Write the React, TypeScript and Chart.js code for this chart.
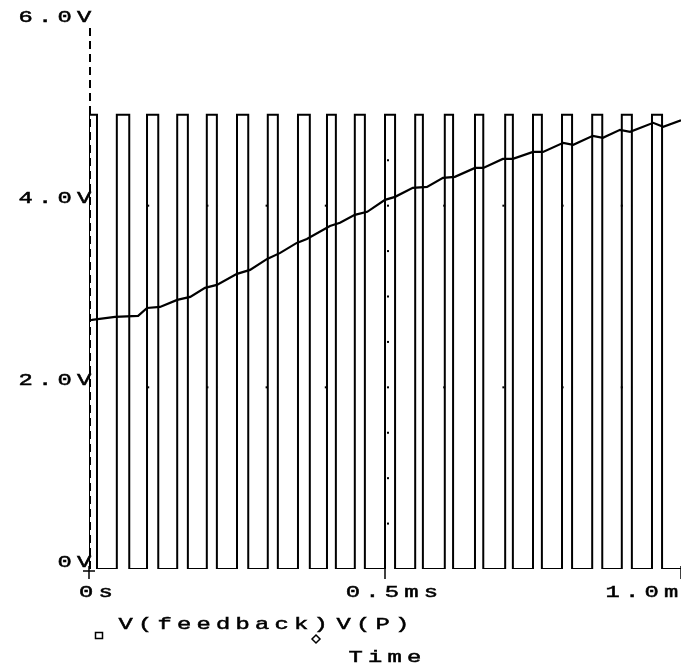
import React, { useEffect, useRef } from "react";
import { Chart, registerables } from "chart.js";
Chart.register(...registerables);

// ---- data (time in ms, voltage in V) ----
const pulseRiseTimes = [0, 0.047, 0.098, 0.149, 0.199, 0.25, 0.302, 0.353, 0.402, 0.449, 0.5, 0.551, 0.601, 0.652, 0.703, 0.75, 0.799, 0.85, 0.9, 0.951];
const pulseFallTimes = [0.0135, 0.068, 0.117, 0.167, 0.216, 0.269, 0.319, 0.373, 0.417, 0.466, 0.517, 0.564, 0.615, 0.666, 0.716, 0.765, 0.816, 0.867, 0.917, 0.968];
const pulseHigh = 5.0;
const pulseLow = 0;
const endTime = 1.0;

const feedbackTimes = [0, 0.005, 0.044, 0.083, 0.098, 0.12, 0.149, 0.171, 0.196, 0.216, 0.25, 0.272, 0.301, 0.323, 0.351, 0.368, 0.407, 0.424, 0.449, 0.47, 0.5, 0.517, 0.547, 0.571, 0.598, 0.618, 0.652, 0.666, 0.699, 0.716, 0.75, 0.767, 0.801, 0.818, 0.851, 0.868, 0.897, 0.914, 0.953, 0.97, 1.0];
const feedbackValues = [2.74, 2.742, 2.775, 2.786, 2.874, 2.885, 2.963, 2.996, 3.095, 3.128, 3.249, 3.293, 3.414, 3.48, 3.59, 3.634, 3.777, 3.811, 3.899, 3.932, 4.064, 4.097, 4.196, 4.207, 4.306, 4.317, 4.416, 4.416, 4.515, 4.515, 4.592, 4.592, 4.692, 4.67, 4.769, 4.747, 4.835, 4.813, 4.912, 4.868, 4.94];

const yTicks = [0, 2, 4, 6];
const yTickLabels = ["0V", "2.0V", "4.0V", "6.0V"];
const xTicks = [0, 0.5, 1.0];
const xTickLabels = ["0s", "0.5ms", "1.0ms"];
const legendLabels = ["V(feedback)", "V(P)"];
const xTitle = "Time";

// sparse dotted grid (PSpice style)
const gridDotTimes = [0.1, 0.2, 0.3, 0.4, 0.5, 0.6, 0.7, 0.8, 0.9];
const gridDotLevels = [2, 4];
const gridDotVolts = [0.5, 1.0, 1.5, 2.0, 2.5, 3.0, 3.5, 4.0, 4.5];
const gridDotTimeLine = 0.5;

const ADV = 19.5;
const SX = 1.4;
const FONT = "17px 'Liberation Mono', 'DejaVu Sans Mono', monospace";

function drawMono(ctx: CanvasRenderingContext2D, text: string, left: number, cy: number) {
  ctx.save();
  ctx.font = FONT;
  ctx.textBaseline = "middle";
  ctx.textAlign = "center";
  ctx.fillStyle = "#000";
  ctx.strokeStyle = "#000";
  ctx.lineWidth = 0.5;
  for (let i = 0; i < text.length; i++) {
    const cx = left + i * ADV + ADV / 2;
    ctx.save();
    ctx.translate(cx, cy);
    ctx.scale(SX, 1);
    ctx.fillText(text[i], 0, 0);
    ctx.strokeText(text[i], 0, 0);
    ctx.restore();
  }
  ctx.restore();
}

const overlay = {
  id: "pspiceOverlay",
  afterDraw(chart: any) {
    const ctx: CanvasRenderingContext2D = chart.ctx;
    const xs = chart.scales.x;
    const ys = chart.scales.y;
    const area = chart.chartArea;
    const x0 = xs.getPixelForValue(0);
    const y0 = ys.getPixelForValue(0);

    ctx.save();
    // dashed y axis
    ctx.strokeStyle = "#000";
    ctx.lineWidth = 2;
    ctx.setLineDash([8, 5]);
    ctx.beginPath();
    ctx.moveTo(x0 + 1, area.top + 4);
    ctx.lineTo(x0 + 1, y0 + 4);
    ctx.stroke();
    ctx.setLineDash([]);

    // origin cross and x ticks
    ctx.lineWidth = 1.5;
    ctx.beginPath();
    ctx.moveTo(x0 - 6, y0 + 2);
    ctx.lineTo(x0 + 6, y0 + 2);
    ctx.stroke();
    for (const t of xTicks) {
      const px = xs.getPixelForValue(t);
      ctx.beginPath();
      ctx.moveTo(px, y0 - 3);
      ctx.lineTo(px, y0 + 10);
      ctx.stroke();
    }

    // grid dots
    ctx.fillStyle = "#000";
    for (const v of gridDotLevels) {
      for (const t of gridDotTimes) {
        ctx.fillRect(xs.getPixelForValue(t) - 1, ys.getPixelForValue(v) - 1, 2, 2);
      }
    }
    for (const v of gridDotVolts) {
      ctx.fillRect(xs.getPixelForValue(gridDotTimeLine) + 2, ys.getPixelForValue(v) - 1, 2, 2);
    }

    // y tick labels (right aligned)
    yTicks.forEach((v, i) => {
      const lab = yTickLabels[i];
      const py = ys.getPixelForValue(v) - 7;
      drawMono(ctx, lab, x0 + 5 - lab.length * ADV, py);
    });

    // x tick labels
    xTicks.forEach((t, i) => {
      const lab = xTickLabels[i];
      const px = xs.getPixelForValue(t);
      let left = px + 7 - (lab.length * ADV) / 2;
      left = Math.min(left, area.right - 78);
      drawMono(ctx, lab, left, y0 + 23);
    });

    // legend
    const ly = y0 + 55;
    ctx.lineWidth = 1.5;
    ctx.strokeRect(x0 + 6.5, ly + 8.5, 7, 6);
    drawMono(ctx, legendLabels[0], x0 + 27, ly);
    ctx.beginPath();
    const dx = x0 + 227, dy = ly + 15;
    ctx.moveTo(dx, dy - 4);
    ctx.lineTo(dx + 4, dy);
    ctx.lineTo(dx, dy + 4);
    ctx.lineTo(dx - 4, dy);
    ctx.closePath();
    ctx.stroke();
    drawMono(ctx, legendLabels[1], x0 + 245, ly);

    // axis title
    drawMono(ctx, xTitle, x0 + 257, y0 + 88);
    ctx.restore();
  },
};

export default function App() {
  const ref = useRef<HTMLCanvasElement | null>(null);
  useEffect(() => {
    const canvas = ref.current;
    if (!canvas) return;

    const pulseData: { x: number; y: number }[] = [];
    pulseRiseTimes.forEach((r, i) => {
      const f = pulseFallTimes[i];
      pulseData.push({ x: r, y: pulseLow });
      pulseData.push({ x: r, y: pulseHigh });
      pulseData.push({ x: f, y: pulseHigh });
      pulseData.push({ x: f, y: pulseLow });
    });
    pulseData.push({ x: endTime, y: pulseLow });

    const feedbackData = feedbackTimes.map((t, i) => ({ x: t, y: feedbackValues[i] }));

    const chart = new Chart(canvas, {
      type: "line",
      data: {
        datasets: [
          {
            label: legendLabels[0],
            data: feedbackData,
            borderColor: "#000",
            borderWidth: 2.2,
            pointRadius: 0,
            tension: 0,
            fill: false,
          },
          {
            label: legendLabels[1],
            data: pulseData,
            borderColor: "#000",
            borderWidth: 2,
            pointRadius: 0,
            tension: 0,
            fill: false,
          },
        ],
      },
      options: {
        responsive: false,
        animation: false,
        events: [],
        layout: { padding: { left: 89, top: 24, right: 0, bottom: 100 } },
        plugins: { legend: { display: false }, tooltip: { enabled: false } },
        scales: {
          x: { type: "linear", min: 0, max: 1.0, display: false },
          y: { type: "linear", min: 0, max: 6, display: false },
        },
      },
      plugins: [overlay],
    } as any);
    return () => chart.destroy();
  }, []);

  return (
    <div style={{ position: "absolute", left: 0, top: 0, width: 681, height: 669, background: "#fff" }}>
      <canvas ref={ref} width={681} height={669} style={{ display: "block", width: 681, height: 669 }} />
    </div>
  );
}
